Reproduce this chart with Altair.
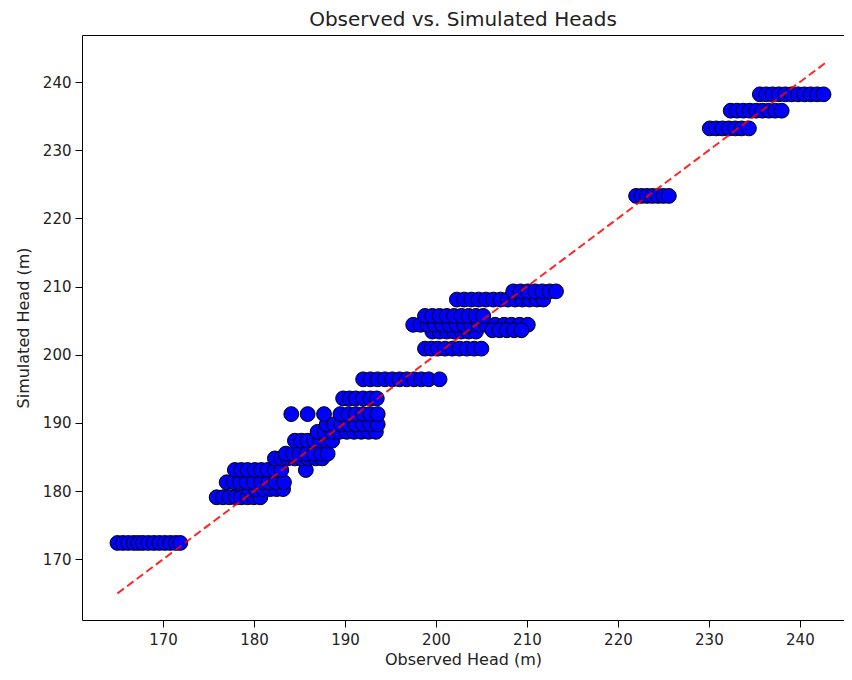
import altair as alt
import pandas as pd

# Observed (x) / simulated (y) heads
row_y = [172.4, 179.1, 180.3, 181.3, 183.1, 184.8, 185.5, 187.4, 188.7, 189.8,
         191.3, 193.6, 196.4, 200.9, 203.4, 204.4, 205.7, 203.6, 208.1, 209.3,
         223.3, 233.2, 235.8, 238.2]
row_x = [
    [165.0, 165.6, 166.2, 166.8, 167.3, 167.8, 168.4, 169.0, 169.6, 170.2, 170.8, 171.4, 171.9],
    [175.9, 176.6, 177.3, 178.0, 178.6, 179.3, 180.0, 180.7],
    [179.5, 180.2, 181.0, 181.8, 182.5, 183.2],
    [177.0, 177.8, 178.5, 179.2, 180.0, 180.8, 181.6, 182.4, 183.3],
    [177.9, 178.6, 179.3, 180.1, 180.8, 181.5, 182.3, 183.0, 185.7],
    [182.3, 183.0, 183.7, 184.5, 185.2, 186.0, 186.8, 187.5],
    [183.5, 184.3, 185.0, 185.8, 186.6, 187.4, 188.1],
    [184.5, 185.2, 185.9, 186.6, 187.3, 188.0, 188.6],
    [187.0, 187.8, 188.6, 189.4, 190.2, 191.0, 191.8, 192.6, 193.4],
    [188.0, 188.8, 189.6, 190.4, 191.2, 192.0, 192.8, 193.6],
    [184.1, 185.9, 187.7, 189.5, 190.4, 191.2, 192.0, 192.8, 193.6],
    [189.8, 190.5, 191.2, 192.0, 192.8, 193.5],
    [192.0, 192.8, 193.6, 194.4, 195.2, 196.0, 196.8, 197.6, 198.4, 199.2, 200.4],
    [198.8, 199.5, 200.2, 201.0, 201.8, 202.6, 203.4, 204.2, 205.0],
    [199.6, 200.4, 201.2, 202.0, 202.8, 203.6, 204.4],
    [197.5, 198.3, 199.1, 199.9, 200.7, 201.5, 202.3, 203.1, 203.9, 204.7, 205.5,
     206.5, 207.5, 208.3, 209.2, 210.1],
    [198.8, 199.6, 200.4, 201.2, 202.0, 202.8, 203.6, 204.4, 205.2],
    [206.2, 207.0, 207.8, 208.6, 209.4],
    [202.3, 203.1, 203.9, 204.7, 205.5, 206.3, 207.1, 207.9, 208.7, 209.5, 210.3, 211.1, 211.8],
    [208.5, 209.3, 210.1, 210.9, 211.7, 212.5, 213.2],
    [222.0, 222.6, 223.2, 223.8, 224.4, 225.0, 225.6],
    [230.1, 230.8, 231.5, 232.2, 232.9, 233.6, 234.4],
    [232.4, 233.1, 233.8, 234.5, 235.2, 235.9, 236.6, 237.3, 238.0],
    [235.6, 236.3, 237.0, 237.7, 238.4, 239.1, 239.8, 240.5, 241.2, 241.9, 242.6],
]

observed = []
simulated = []
for yv, xs in zip(row_y, row_x):
    for xv in xs:
        observed.append(xv)
        simulated.append(yv)

line_ends = [165.0, 243.0]
tick_vals = [170, 180, 190, 200, 210, 220, 230, 240]

pts = pd.DataFrame({"Observed": observed, "Simulated": simulated})
ln = pd.DataFrame({"Observed": line_ends, "Simulated": line_ends})

xscale = alt.Scale(domain=[161.1, 244.85], nice=False, zero=False)
yscale = alt.Scale(domain=[161.1, 246.9], nice=False, zero=False)

xaxis = alt.Axis(title="Observed Head (m)", values=tick_vals, grid=False,
                 tickSize=7, labelPadding=5, titlePadding=4)
yaxis = alt.Axis(title="Simulated Head (m)", values=tick_vals, grid=False,
                 tickSize=7, labelPadding=4, titlePadding=11)

points = alt.Chart(pts).mark_point(
    shape="circle", filled=True, fill="#0000ff", stroke="black",
    strokeWidth=1, opacity=1, size=220
).encode(
    x=alt.X("Observed:Q", scale=xscale, axis=xaxis),
    y=alt.Y("Simulated:Q", scale=yscale, axis=yaxis),
)

line = alt.Chart(ln).mark_line(
    color="#ff0000", strokeDash=[8, 4], strokeWidth=2, opacity=0.85
).encode(
    x=alt.X("Observed:Q", scale=xscale),
    y=alt.Y("Simulated:Q", scale=yscale),
)

chart = alt.layer(points, line).properties(
    width=762, height=585,
    title=alt.TitleParams("Observed vs. Simulated Heads", fontSize=20,
                          font="DejaVu Sans", fontWeight="normal",
                          color="#222", offset=5),
    autosize=alt.AutoSizeParams(type="none"),
    padding={"left": 74, "top": 27, "right": 0, "bottom": 50},
).configure_view(
    stroke="black", strokeWidth=1
).configure_axis(
    domain=False, tickColor="black", labelFont="DejaVu Sans",
    titleFont="DejaVu Sans", labelFontSize=15, titleFontSize=16,
    titleFontWeight="normal", labelColor="#222", titleColor="#222",
)

chart.save("out.html", embed_options={"renderer": "svg", "actions": False})
